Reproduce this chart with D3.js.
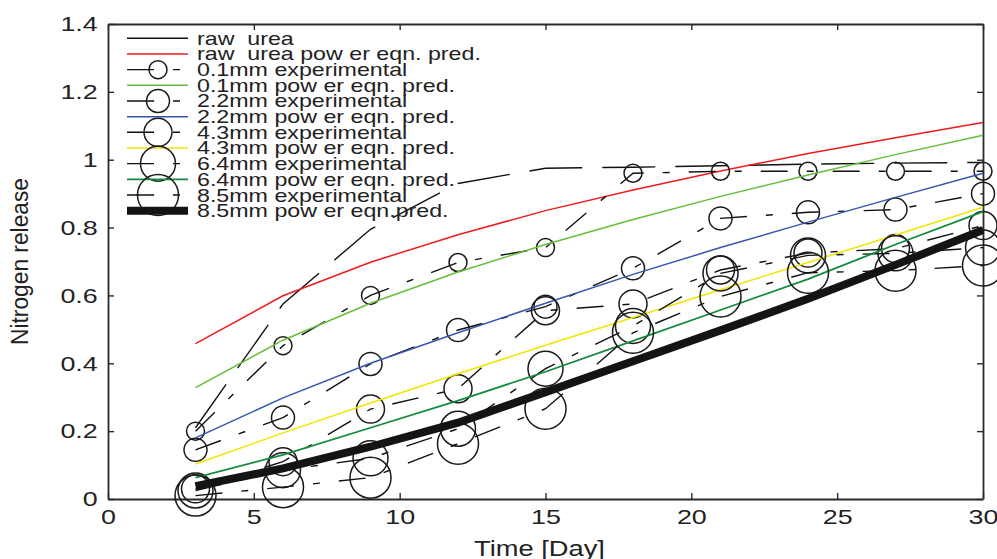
<!DOCTYPE html>
<html><head><meta charset="utf-8">
<script src="https://cdn.jsdelivr.net/npm/d3@7"></script>
<style>
html,body{margin:0;padding:0;background:#fff;}
svg{display:block;font-family:"Liberation Sans",Arial,Helvetica,sans-serif;}
</style></head>
<body>
<svg id="chart" width="997" height="559"></svg>
<script>
// ---- data ----
const days = [3, 6, 9, 12, 15, 18, 21, 24, 27, 30];
const rawUrea      = [0.21, 0.575, 0.795, 0.93, 0.975, 0.978, 0.982, 0.987, 0.99, 0.992];
const rawUreaPred  = [0.458, 0.599, 0.698, 0.779, 0.850, 0.911, 0.967, 1.018, 1.065, 1.11];
const exp01        = [0.20, 0.452, 0.60, 0.697, 0.741, 0.96, 0.966, 0.966, 0.966, 0.966];
const pred01       = [0.328, 0.468, 0.577, 0.669, 0.750, 0.824, 0.892, 0.955, 1.015, 1.072];
const exp22        = [0.145, 0.24, 0.398, 0.498, 0.567, 0.68, 0.827, 0.845, 0.853, 0.90];
const pred22       = [0.18, 0.298, 0.400, 0.490, 0.577, 0.662, 0.741, 0.816, 0.889, 0.96];
const exp43        = [0.03, 0.11, 0.265, 0.325, 0.555, 0.575, 0.675, 0.725, 0.738, 0.806];
const pred43       = [0.103, 0.195, 0.283, 0.369, 0.453, 0.535, 0.617, 0.697, 0.778, 0.86];
const exp64        = [0.025, 0.085, 0.12, 0.207, 0.384, 0.51, 0.665, 0.718, 0.724, 0.741];
const pred64       = [0.063, 0.13, 0.21, 0.29, 0.375, 0.466, 0.557, 0.648, 0.75, 0.847];
const exp85        = [0.01, 0.035, 0.063, 0.163, 0.266, 0.49, 0.597, 0.667, 0.673, 0.688];
const pred85       = [0.038, 0.09, 0.154, 0.225, 0.315, 0.406, 0.497, 0.59, 0.69, 0.793];

const xTicks = [0, 5, 10, 15, 20, 25, 30];
const yTicks = [0, 0.2, 0.4, 0.6, 0.8, 1, 1.2, 1.4];
const xLabel = "Time [Day]";
const yLabel = "Nitrogen release";

const seriesNames = [
  "raw  urea", "raw  urea pow er eqn. pred.",
  "0.1mm experimental", "0.1mm pow er eqn. pred.",
  "2.2mm experimental", "2.2mm pow er eqn. pred.",
  "4.3mm experimental", "4.3mm pow er eqn. pred.",
  "6.4mm experimental", "6.4mm pow er eqn. pred.",
  "8.5mm experimental", "8.5mm pow er eqn.pred."
];
const seriesValues = [rawUrea, rawUreaPred, exp01, pred01, exp22, pred22, exp43, pred43, exp64, pred64, exp85, pred85];

// ---- styles (kept separate from data) ----
const EXPDASH = "27,19,7,19";
const styles = [
  {color:"#111", width:1.4, dash:"53,20", r:0},
  {color:"#ee1c1c", width:1.5, dash:null, r:0},
  {color:"#111", width:1.4, dash:EXPDASH, r:9},
  {color:"#66be3c", width:1.5, dash:null, r:0},
  {color:"#111", width:1.4, dash:EXPDASH, r:11.5},
  {color:"#3556aa", width:1.5, dash:null, r:0},
  {color:"#111", width:1.4, dash:EXPDASH, r:14},
  {color:"#f2e600", width:1.5, dash:null, r:0},
  {color:"#111", width:1.4, dash:EXPDASH, r:17.5},
  {color:"#138a3e", width:1.8, dash:null, r:0},
  {color:"#111", width:1.4, dash:EXPDASH, r:20.5},
  {color:"#141414", width:8, dash:null, r:0}
];

const svg = d3.select("#chart");
const X = d3.scaleLinear().domain([0, 30]).range([108, 983]);
const Y = d3.scaleLinear().domain([0, 1.4]).range([499, 24]);
const SX = 1.28; // horizontal stretch of the original text

// ---- axes ----
const axisColor = "#2a2a2a";
function styleAxis(g, labels){
  g.select(".domain").attr("stroke", axisColor).attr("stroke-width", 1.8);
  g.selectAll(".tick line").attr("stroke", axisColor).attr("stroke-width", 1.4);
  if(!labels) g.selectAll(".tick text").remove();
}
const fmt = d => d3.format("~g")(d);

const gx = svg.append("g").attr("transform", `translate(0,${Y(0)})`)
  .call(d3.axisBottom(X).tickValues(xTicks).tickFormat(fmt).tickSizeInner(-6).tickSizeOuter(0).tickPadding(10));
styleAxis(gx, true);
gx.selectAll(".tick text").attr("font-size", 21).attr("fill", "#222")
  .attr("font-family", "Liberation Sans, Arial, sans-serif")
  .attr("transform", `scale(${SX},1)`);

const gy = svg.append("g").attr("transform", `translate(${X(0)},0)`)
  .call(d3.axisLeft(Y).tickValues(yTicks).tickFormat(fmt).tickSizeInner(-6).tickSizeOuter(0).tickPadding(8));
styleAxis(gy, true);
gy.selectAll(".tick text").attr("font-size", 21).attr("fill", "#222")
  .attr("font-family", "Liberation Sans, Arial, sans-serif")
  .attr("transform", `scale(${SX},1)`).attr("x", -8);

const gt = svg.append("g").attr("transform", `translate(0,${Y(1.4)})`)
  .call(d3.axisTop(X).tickValues(xTicks).tickSizeInner(-6).tickSizeOuter(0));
styleAxis(gt, false);
const gr = svg.append("g").attr("transform", `translate(${X(30)},0)`)
  .call(d3.axisRight(Y).tickValues(yTicks).tickSizeInner(-6).tickSizeOuter(0));
styleAxis(gr, false);

// axis titles
svg.append("text").attr("transform", `translate(${(X(0)+X(30))/2 - 6},556) scale(1.24,1)`)
  .attr("text-anchor", "middle").attr("font-size", 22).attr("fill", "#222").text(xLabel);
svg.append("text").attr("transform", `translate(28,${(Y(0)+Y(1.4))/2}) scale(1.25,1) rotate(-90)`)
  .attr("text-anchor", "middle").attr("font-size", 19).attr("fill", "#222")
  .attr("textLength", 167).attr("lengthAdjust", "spacingAndGlyphs").text(yLabel);

// ---- series ----
const line = d3.line().x((d, i) => X(days[i])).y(d => Y(d));
const plot = svg.append("g");
seriesValues.forEach((vals, k) => {
  const s = styles[k];
  plot.append("path").attr("d", line(vals)).attr("fill", "none")
    .attr("stroke", s.color).attr("stroke-width", s.width)
    .attr("stroke-dasharray", s.dash).attr("stroke-linejoin", "miter");
  if (s.r > 0) {
    plot.selectAll(null).data(vals).enter().append("circle")
      .attr("cx", (d, i) => X(days[i])).attr("cy", d => Y(d)).attr("r", s.r)
      .attr("fill", "none").attr("stroke", "#1a1a1a").attr("stroke-width", 1.5);
  }
});

// ---- legend ----
const lg = svg.append("g");
const lx0 = 127, lx1 = 188, ly0 = 38.3, lstep = 15.67, ltx = 197;
seriesNames.forEach((name, k) => {
  const s = styles[k];
  const y = ly0 + k * lstep;
  lg.append("line").attr("x1", lx0).attr("x2", lx1).attr("y1", y).attr("y2", y)
    .attr("stroke", s.color).attr("stroke-width", s.width)
    .attr("stroke-dasharray", k === 0 ? null : s.dash);
  if (s.r > 0) {
    lg.append("circle").attr("cx", 158).attr("cy", y).attr("r", s.r)
      .attr("fill", "none").attr("stroke", "#1a1a1a").attr("stroke-width", 1.5);
  }
  lg.append("text").attr("transform", `translate(${ltx},${y + 6.5}) scale(1.29,1)`)
    .attr("font-size", 18).attr("fill", "#222").attr("xml:space", "preserve")
    .style("white-space", "pre").text(name);
});
</script>
</body></html>
